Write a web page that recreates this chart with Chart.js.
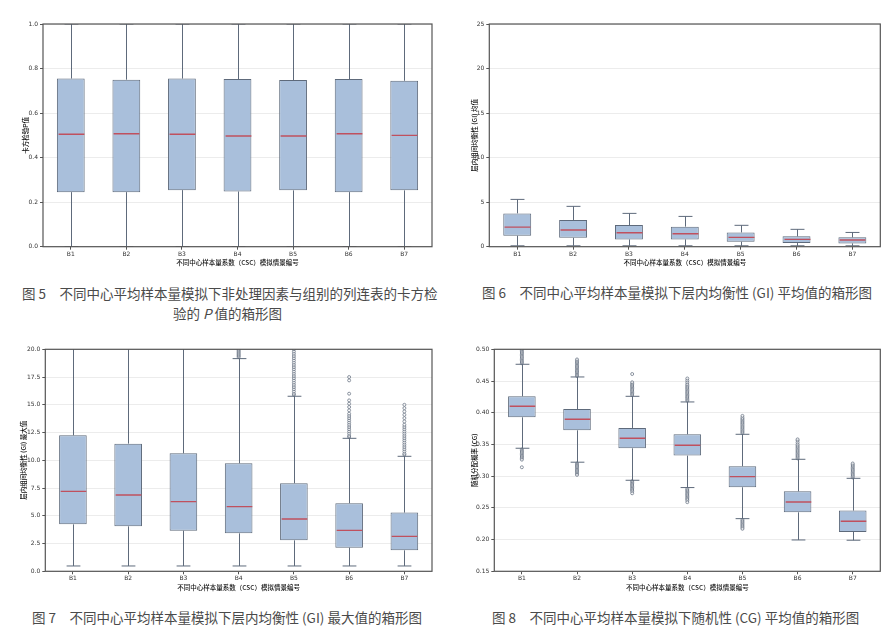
<!DOCTYPE html>
<html>
<head>
<meta charset="utf-8">
<script src="https://cdn.jsdelivr.net/npm/chart.js@4/dist/chart.umd.min.js"></script>
<style>
    body { margin: 0; background: #fff; width: 890px; height: 642px; position: relative; overflow: hidden; }
    .fig { position: absolute; }
    .cap { position: absolute; font-family: "Noto Sans CJK SC", sans-serif; font-size: 13.5px; color: #4a4a4a; white-space: nowrap; line-height: 20px; }
</style>
</head>
<body>
<div class="fig" style="left:0;top:8px"><canvas id="fig5" width="440" height="262"></canvas></div>
<div class="fig" style="left:445px;top:8px"><canvas id="fig6" width="445" height="262"></canvas></div>
<div class="fig" style="left:0;top:335px"><canvas id="fig7" width="440" height="260"></canvas></div>
<div class="fig" style="left:445px;top:335px"><canvas id="fig8" width="445" height="260"></canvas></div>

<div class="cap" style="left:22px;top:283px">图 5　不同中心平均样本量模拟下非处理因素与组别的列连表的卡方检</div>
<div class="cap" style="left:173px;top:303px">验的 <i>P</i> 值的箱形图</div>
<div class="cap" style="left:482px;top:282px">图 6　不同中心平均样本量模拟下层内均衡性 (GI) 平均值的箱形图</div>
<div class="cap" style="left:32px;top:607px">图 7　不同中心平均样本量模拟下层内均衡性 (GI) 最大值的箱形图</div>
<div class="cap" style="left:492px;top:607px">图 8　不同中心平均样本量模拟下随机性 (CG) 平均值的箱形图</div>

<script>
const categories = ['B1', 'B2', 'B3', 'B4', 'B5', 'B6', 'B7'];
const xTitle = '不同中心样本量系数（CSC）模拟情景编号';

// fig 5 - chi-square P values
const p5Low = [0, 0, 0, 0, 0, 0, 0];
const p5Q1 = [0.245, 0.245, 0.254, 0.248, 0.253, 0.245, 0.253];
const p5Med = [0.505, 0.507, 0.505, 0.497, 0.497, 0.507, 0.500];
const p5Q3 = [0.755, 0.750, 0.755, 0.753, 0.748, 0.753, 0.745];
const p5High = [1, 1, 1, 1, 1, 1, 1];
const p5Ticks = [0, 0.2, 0.4, 0.6, 0.8, 1.0];

// fig 6 - GI mean
const gi6Low = [0.1, 0.1, 0.1, 0.1, 0.1, 0.1, 0.1];
const gi6Q1 = [1.23, 1.0, 0.82, 0.82, 0.56, 0.41, 0.37];
const gi6Med = [2.2, 1.87, 1.57, 1.46, 1.05, 0.82, 0.75];
const gi6Q3 = [3.74, 3.0, 2.43, 2.25, 1.6, 1.16, 1.05];
const gi6High = [5.31, 4.53, 3.74, 3.4, 2.4, 1.95, 1.6];
const gi6Ticks = [0, 5, 10, 15, 20, 25];

// fig 7 - GI max
const gi7Low = [0.48, 0.48, 0.48, 0.48, 0.48, 0.48, 0.48];
const gi7Q1 = [4.23, 4.05, 3.66, 3.42, 2.79, 2.13, 1.89];
const gi7Med = [7.2, 6.88, 6.28, 5.83, 4.71, 3.69, 3.15];
const gi7Q3 = [12.25, 11.5, 10.63, 9.73, 7.93, 6.13, 5.29];
const gi7High = [22.5, 21.5, 20.8, 19.16, 15.77, 11.98, 10.36];
const gi7Out = [
    [], [], [],
    [19.3, 19.4, 19.5, 19.6, 19.7, 19.8, 19.9, 20.0],
    [15.9, 16.0, 16.2, 16.4, 16.6, 16.8, 17.0, 17.2, 17.4, 17.6, 17.8, 18.0, 18.2, 18.4, 18.6, 18.8, 19.0, 19.2, 19.4, 19.6, 19.8, 20.0],
    [12.1, 12.2, 12.4, 12.6, 12.8, 13.0, 13.2, 13.4, 13.6, 13.8, 14.0, 14.2, 14.5, 14.8, 15.1, 15.4, 16.0, 17.2, 17.5],
    [10.5, 10.6, 10.8, 11.0, 11.2, 11.4, 11.6, 11.8, 12.0, 12.2, 12.4, 12.6, 12.8, 13.0, 13.2, 13.5, 13.8, 14.1, 14.4, 14.7, 15.0]
];
const gi7Ticks = [0, 2.5, 5, 7.5, 10, 12.5, 15, 17.5, 20];

// fig 8 - CG mean
const cg8Low = [0.344, 0.322, 0.2935, 0.282, 0.233, 0.1994, 0.199];
const cg8Q1 = [0.3928, 0.3723, 0.3439, 0.3324, 0.2825, 0.243, 0.2121];
const cg8Med = [0.4101, 0.3897, 0.3597, 0.3487, 0.2993, 0.2593, 0.2289];
const cg8Q3 = [0.4259, 0.4059, 0.376, 0.366, 0.3156, 0.2761, 0.2457];
const cg8High = [0.4764, 0.4564, 0.4259, 0.417, 0.366, 0.3266, 0.2966];
const cg8Out = [
    [0.478, 0.480, 0.482, 0.484, 0.486, 0.488, 0.490, 0.492, 0.494, 0.496, 0.498, 0.500, 0.342, 0.340, 0.338, 0.336, 0.334, 0.332, 0.330, 0.328, 0.326, 0.314],
    [0.458, 0.460, 0.462, 0.464, 0.466, 0.468, 0.470, 0.472, 0.474, 0.476, 0.478, 0.480, 0.482, 0.484, 0.320, 0.318, 0.316, 0.314, 0.312, 0.310, 0.308, 0.306, 0.304, 0.302],
    [0.428, 0.430, 0.432, 0.434, 0.436, 0.438, 0.440, 0.442, 0.444, 0.446, 0.448, 0.461, 0.292, 0.290, 0.288, 0.286, 0.284, 0.282, 0.280, 0.278, 0.276, 0.273],
    [0.419, 0.421, 0.423, 0.425, 0.427, 0.429, 0.431, 0.433, 0.435, 0.437, 0.439, 0.441, 0.443, 0.445, 0.448, 0.451, 0.454, 0.280, 0.278, 0.276, 0.274, 0.272, 0.270, 0.268, 0.266, 0.264, 0.262, 0.259],
    [0.368, 0.370, 0.372, 0.374, 0.376, 0.378, 0.380, 0.382, 0.384, 0.386, 0.388, 0.390, 0.392, 0.395, 0.231, 0.229, 0.227, 0.225, 0.223, 0.221, 0.219, 0.217],
    [0.328, 0.330, 0.332, 0.334, 0.336, 0.338, 0.340, 0.342, 0.344, 0.346, 0.348, 0.350, 0.353, 0.356, 0.358],
    [0.298, 0.300, 0.302, 0.304, 0.306, 0.308, 0.310, 0.312, 0.314, 0.316, 0.318, 0.320]
];
const cg8Ticks = [0.15, 0.20, 0.25, 0.30, 0.35, 0.40, 0.45, 0.50];

const boxFill = '#a9bfdb';
const boxEdge = '#5e6a7b';
const medianColor = '#c0505e';

// whiskers, caps, medians and the frame round the plot
const boxParts = {
    id: 'boxParts',
    afterDatasetsDraw(chart) {
        const ds = chart.data.datasets[0];
        const ctx = chart.ctx;
        const a = chart.chartArea;
        const x = chart.scales.x;
        const y = chart.scales.y;
        const bars = chart.getDatasetMeta(0).data;
        ctx.save();
        ctx.beginPath();
        ctx.rect(a.left, a.top, a.width, a.height);
        ctx.clip();
        ctx.lineWidth = 1;
        ds.boxLow.forEach((lo, i) => {
            const cx = Math.round(x.getPixelForValue(i)) + 0.5;
            const w = bars[i].width;
            const q1 = y.getPixelForValue(ds.data[i][0]);
            const q3 = y.getPixelForValue(ds.data[i][1]);
            const pLo = y.getPixelForValue(lo);
            const pHi = y.getPixelForValue(ds.boxHigh[i]);
            ctx.strokeStyle = boxEdge;
            ctx.beginPath();
            ctx.moveTo(cx, q1); ctx.lineTo(cx, pLo);
            ctx.moveTo(cx, q3); ctx.lineTo(cx, pHi);
            ctx.moveTo(cx - w / 4, pLo); ctx.lineTo(cx + w / 4, pLo);
            ctx.moveTo(cx - w / 4, pHi); ctx.lineTo(cx + w / 4, pHi);
            ctx.stroke();
            const pm = y.getPixelForValue(ds.boxMed[i]);
            ctx.strokeStyle = medianColor;
            ctx.lineWidth = 1.4;
            ctx.beginPath();
            ctx.moveTo(cx - w / 2 + 1, pm); ctx.lineTo(cx + w / 2 - 1, pm);
            ctx.stroke();
            ctx.lineWidth = 1;
        });
        ctx.restore();
        ctx.save();
        ctx.strokeStyle = '#555';
        ctx.lineWidth = 1.2;
        ctx.strokeRect(a.left, a.top, a.width, a.height);
        ctx.restore();
    }
};

function buildBox(id, opt) {
    const outPoints = [];
    (opt.out || []).forEach((vals, i) => {
        vals.forEach(v => outPoints.push({ x: categories[i], y: v }));
    });
    const ticksFont = { family: 'DejaVu Sans', size: 6 };
    const titleFont = { family: 'Noto Sans CJK SC', size: 6.5, weight: 500 };
    return new Chart(document.getElementById(id), {
        type: 'bar',
        data: {
            labels: categories,
            datasets: [{
                data: opt.q1.map((v, i) => [v, opt.q3[i]]),
                boxLow: opt.low,
                boxMed: opt.med,
                boxHigh: opt.high,
                backgroundColor: boxFill,
                borderColor: boxEdge,
                borderWidth: 1,
                borderSkipped: false,
                barPercentage: 0.5,
                categoryPercentage: 1.0
            }, {
                type: 'line',
                data: outPoints,
                showLine: false,
                pointRadius: 1.5,
                pointBorderWidth: 0.7,
                pointBorderColor: boxEdge,
                pointBackgroundColor: 'rgba(255,255,255,0.6)'
            }]
        },
        options: {
            responsive: false,
            animation: false,
            layout: { padding: { left: opt.padLeft, top: opt.padTop, right: opt.padRight, bottom: 0 } },
            plugins: { legend: { display: false }, tooltip: { enabled: false } },
            scales: {
                x: {
                    grid: { display: true, drawOnChartArea: false, offset: false, tickLength: 3, color: '#555' },
                    border: { display: false },
                    ticks: { font: ticksFont, color: '#333', padding: 1, maxRotation: 0 },
                    title: { display: true, text: xTitle, font: titleFont, color: '#111', padding: { top: 2, bottom: 4 } },
                    afterFit: s => { s.height = opt.xHeight; }
                },
                y: {
                    min: opt.ticks[0],
                    max: opt.ticks[opt.ticks.length - 1],
                    afterBuildTicks: s => { s.ticks = opt.ticks.map(v => ({ value: v })); },
                    grid: { color: '#ececec', tickColor: '#555', tickLength: 3 },
                    border: { display: false },
                    ticks: { font: ticksFont, color: '#333', padding: 2, callback: v => v.toFixed(opt.dec) },
                    title: { display: true, text: opt.yTitle, font: titleFont, color: '#111', padding: { top: 4, bottom: 4 } },
                    afterFit: s => { s.width = opt.yWidth; }
                }
            }
        },
        plugins: [boxParts]
    });
}

buildBox('fig5', {
    low: p5Low, q1: p5Q1, med: p5Med, q3: p5Q3, high: p5High, ticks: p5Ticks, dec: 1,
    yTitle: '卡方检验P值', padLeft: 18, yWidth: 25, padTop: 16, padRight: 8, xHeight: 23.3
});
buildBox('fig6', {
    low: gi6Low, q1: gi6Q1, med: gi6Med, q3: gi6Q3, high: gi6High, ticks: gi6Ticks, dec: 0,
    yTitle: '层内组间均衡性 (GI) 均值', padLeft: 22, yWidth: 22.3, padTop: 16, padRight: 9.7, xHeight: 23.3
});
buildBox('fig7', {
    low: gi7Low, q1: gi7Q1, med: gi7Med, q3: gi7Q3, high: gi7High, out: gi7Out, ticks: gi7Ticks, dec: 1,
    yTitle: '层内组间均衡性 (GI) 最大值', padLeft: 16, yWidth: 29.3, padTop: 14.3, padRight: 8, xHeight: 23.7
});
buildBox('fig8', {
    low: cg8Low, q1: cg8Q1, med: cg8Med, q3: cg8Q3, high: cg8High, out: cg8Out, ticks: cg8Ticks, dec: 2,
    yTitle: '随机分配概率 (CG)', padLeft: 21.8, yWidth: 27.5, padTop: 14.3, padRight: 9.7, xHeight: 23.7
});
</script>
</body>
</html>
